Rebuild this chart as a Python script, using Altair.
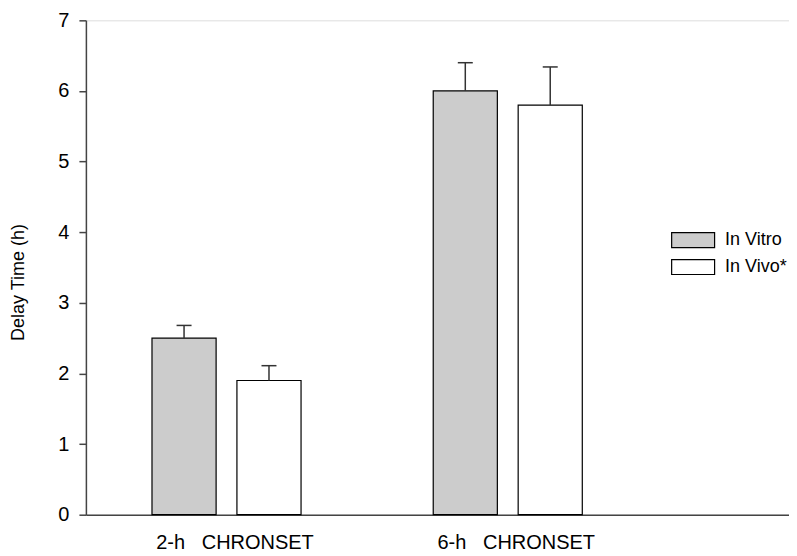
import altair as alt
import pandas as pd

# ---- data ----
groups = ["2-h\u00a0\u00a0\u00a0CHRONSET", "6-h\u00a0\u00a0\u00a0CHRONSET"]
series = ["In Vitro", "In Vivo*"]
vitro_means = [2.5, 6.0]
vitro_upper = [2.68, 6.40]
vivo_means = [1.9, 5.8]
vivo_upper = [2.11, 6.34]
y_ticks = [0, 1, 2, 3, 4, 5, 6, 7]

# ---- table built from the arrays ----
offsets = {"In Vitro": -0.151, "In Vivo*": 0.151}
half_w = 0.114
rows = []
for i, g in enumerate(groups):
    for s, m, u in (("In Vitro", vitro_means[i], vitro_upper[i]),
                    ("In Vivo*", vivo_means[i], vivo_upper[i])):
        c = i + 1 + offsets[s]
        rows.append({"group": g, "series": s, "mean": m, "upper": u,
                     "xc": c, "x0": c - half_w, "x1": c + half_w})
df = pd.DataFrame(rows)

label_expr = " : ".join(
    [f"datum.value == {i + 1} ? '{g}'" for i, g in enumerate(groups)] + ["''"]
)

xscale = alt.Scale(domain=[0.5, 3.0], nice=False, zero=False)
yscale = alt.Scale(domain=[0, 7], nice=False)

base = alt.Chart(df)

bars = base.mark_bar(stroke="black", strokeWidth=1.2).encode(
    x=alt.X("x0:Q", scale=xscale,
            axis=alt.Axis(values=[1, 2], labelExpr=label_expr, ticks=False,
                          tickSize=0, grid=False, title=None, labelFontSize=20,
                          labelPadding=18, labelOffset=8, labelColor="black",
                          domainColor="#444", domainWidth=1.5)),
    x2="x1:Q",
    y=alt.Y("mean:Q", scale=yscale,
            axis=alt.Axis(values=y_ticks, format="d", tickSize=7,
                          labelPadding=10,
                          labelFontSize=20, labelColor="black", grid=False,
                          title="Delay Time (h)", titleFontSize=18,
                          titleFontWeight="normal", titleColor="black",
                          titleX=-58, titleY=262, titleAlign="center",
                          titleBaseline="bottom",
                          domainColor="#444", domainWidth=1.5,
                          tickColor="#444", tickWidth=1.5)),
    y2=alt.datum(0),
    fill=alt.Fill("series:N",
                  scale=alt.Scale(domain=series, range=["#cccccc", "#ffffff"]),
                  legend=alt.Legend(orient="none", legendX=599, legendY=211,
                                    title=None,
                                    symbolType="M-2.867,-1H2.867V1H-2.867Z",
                                    symbolSize=225, symbolStrokeColor="black",
                                    symbolStrokeWidth=1.2, symbolOpacity=1,
                                    labelFontSize=18, labelOffset=23,
                                    labelColor="black", rowPadding=7,
                                    padding=0)),
)

rules = base.mark_rule(color="#333", strokeWidth=1.5).encode(
    x=alt.X("xc:Q", scale=xscale), y=alt.Y("mean:Q", scale=yscale), y2="upper:Q"
)

caps = base.mark_tick(orient="horizontal", size=15, thickness=1.5,
                      color="#333", opacity=1).encode(
    x=alt.X("xc:Q", scale=xscale), y=alt.Y("upper:Q", scale=yscale)
)

chart = alt.layer(bars, rules, caps).properties(
    width=704, height=495,
    autosize=alt.AutoSizeParams(type="none"),
    padding={"left": 78, "top": 12, "right": 0, "bottom": 41},
).configure_view(stroke=None).configure(
    font="Liberation Sans"
).configure_axis(labelFont="Liberation Sans", titleFont="Liberation Sans"
).configure_legend(labelFont="Liberation Sans")

chart.save("out.html", embed_options={"renderer": "svg", "actions": False})
